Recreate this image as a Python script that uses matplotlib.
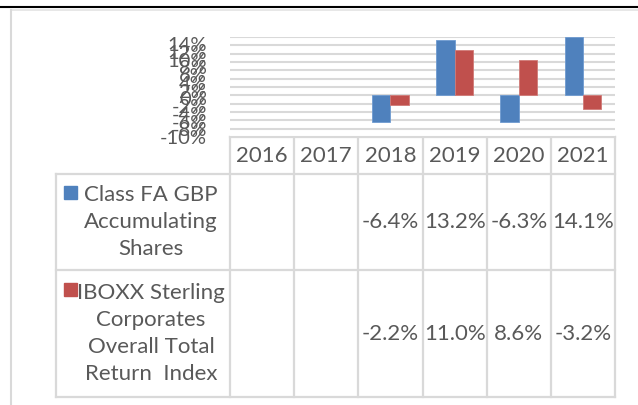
import numpy as np
import matplotlib
matplotlib.use("Agg")
import matplotlib.pyplot as plt
from matplotlib.patches import Rectangle
from matplotlib.lines import Line2D

years = ["2016", "2017", "2018", "2019", "2020", "2021"]
class_fa = [np.nan, np.nan, -6.4, 13.2, -6.3, 14.1]
iboxx = [np.nan, np.nan, -2.2, 11.0, 8.6, -3.2]
series_names = ["Class FA GBP\nAccumulating\nShares",
                "IBOXX Sterling\nCorporates\nOverall Total\nReturn  Index"]
colors = ["#4f81bd", "#c0504d"]
yticks = list(range(-10, 15, 2))

plt.rcParams['font.family'] = ['Lato', 'DejaVu Sans']
TXT = "#595959"
GRID = "#d9d9d9"

W, H = 638, 405
fig = plt.figure(figsize=(W / 100, H / 100), dpi=100)

# layout (pixels)
px0, px1 = 230, 615
py_top, py_bot = 37, 137
leg_x0 = 56
row_edges = [137, 174, 270, 397]

ax = fig.add_axes([px0 / W, 1 - py_bot / H, (px1 - px0) / W, (py_bot - py_top) / H])
n = len(years)
x = np.arange(n)
bw = 0.285
ax.bar(x - bw / 2, class_fa, bw, color=colors[0], edgecolor="#6f9bd0", linewidth=0.6, zorder=3)
ax.bar(x + bw / 2, iboxx, bw, color=colors[1], edgecolor="#d07a77", linewidth=0.6, zorder=3)
ax.set_xlim(-0.5, n - 0.5)
ax.set_ylim(-10, 14)
ax.set_yticks(yticks)
ax.set_yticklabels([])
ax.tick_params(axis="y", length=0)
ax.set_xticks([])
ax.yaxis.grid(True, color=GRID, linewidth=1.5, zorder=0)
for s in ax.spines.values():
    s.set_visible(False)

# tick labels: slightly compressed spacing as in the reference
lab = ax.twinx()
lab.yaxis.tick_left()
lab.set_ylim(-10, -10 + 24 * 100 / 93)
lab.set_yticks(yticks)
lab.set_yticklabels([f"{v}%" for v in yticks], fontsize=14.5, color=TXT)
lab.tick_params(axis="y", length=0, pad=16.5, right=False, labelright=False)
for s in lab.spines.values():
    s.set_visible(False)

# overlay for table and frame
ov = fig.add_axes([0, 0, 1, 1], zorder=-1)
ov.set_xlim(0, W)
ov.set_ylim(H, 0)
ov.axis("off")

# frame
ov.add_line(Line2D([0, W], [7, 7], color="black", linewidth=1.5))
ov.add_line(Line2D([11, W], [9.5, 9.5], color="#e3e3e3", linewidth=1.2))
ov.add_line(Line2D([11, 11], [9.5, H], color="#d9d9d9", linewidth=1.5))

col_w = (px1 - px0) / n
col_edges = [px0 + i * col_w for i in range(n + 1)]
lw = 1.6
ov.add_line(Line2D([px0, px1], [row_edges[0]] * 2, color=GRID, linewidth=lw))
for y in row_edges[1:]:
    ov.add_line(Line2D([leg_x0, px1], [y, y], color=GRID, linewidth=lw))
ov.add_line(Line2D([leg_x0, leg_x0], [row_edges[1], row_edges[3]], color=GRID, linewidth=lw))
for xe in col_edges:
    ov.add_line(Line2D([xe, xe], [row_edges[0], row_edges[3]], color=GRID, linewidth=lw))

fs = 16
for i, yr in enumerate(years):
    cx = (col_edges[i] + col_edges[i + 1]) / 2
    ov.text(cx, (row_edges[0] + row_edges[1]) / 2 + 1, yr, ha="center", va="center",
            fontsize=fs, color=TXT)

line_px = 29
for r, (vals, name, c) in enumerate(zip([class_fa, iboxx], series_names, colors)):
    y0, y1 = row_edges[r + 1], row_edges[r + 2]
    cy = (y0 + y1) / 2
    ov.text(151, cy, name, ha="center", va="center", fontsize=fs, color=TXT,
            linespacing=1.44, multialignment="center")
    nlines = name.count("\n") + 1
    first_line_y = cy - (nlines - 1) * line_px / 2
    ov.add_patch(Rectangle((64, first_line_y - 7), 13, 13, color=c))
    for i, v in enumerate(vals):
        if np.isnan(v):
            continue
        cx = (col_edges[i] + col_edges[i + 1]) / 2
        ov.text(cx, cy, f"{v:.1f}%", ha="center", va="center", fontsize=fs, color=TXT)

fig.savefig("out.png", dpi=100, facecolor="white")
